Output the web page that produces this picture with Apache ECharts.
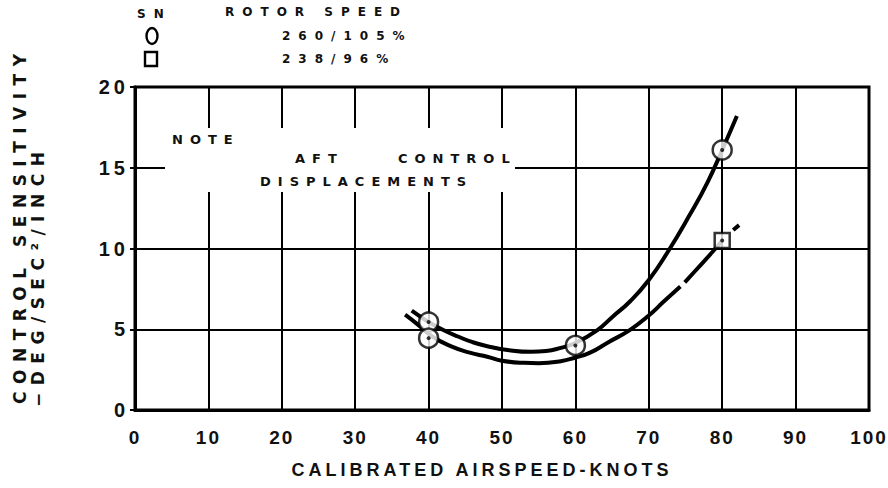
<!DOCTYPE html>
<html>
<head>
<meta charset="utf-8">
<title>Control sensitivity vs calibrated airspeed</title>
<script src="https://cdn.jsdelivr.net/npm/echarts@6/dist/echarts.min.js"></script>
<style>
  html, body { margin: 0; padding: 0; background: #fff; }
  #main { width: 888px; height: 488px; }
  /* the scanned chart spaces its letters out; svg text lets us copy that */
  #main text[style*="12px"] { letter-spacing: 8px; }
  #main text[style*="13px"] { letter-spacing: 7px; }
  #main text[style*="17px"] { letter-spacing: 7.5px; }
  #main text[style*="18px"] { letter-spacing: 4px; }
  #main text[style*="19px"] { letter-spacing: 2px; }
  #main text[style*="20px"] { letter-spacing: 4px; }
</style>
</head>
<body>
<div id="main"></div>
<script type="text/javascript">
// axis ticks
var xTicks = [0, 10, 20, 30, 40, 50, 60, 70, 80, 90, 100];
var yTicks = [0, 5, 10, 15, 20];

// test points (SN legend): circle = 260/105%, square = 238/96%
var circleSpeed = [40, 40, 60, 80];
var circleSens = [5.45, 4.45, 4.0, 16.1];
var squareSpeed = [80];
var squareSens = [10.5];

// faired curves
var upperSpeed = [37.7, 40, 42, 44, 46, 48, 51, 54, 56, 58, 60, 63, 65, 67.5, 70, 72.6, 75.6, 78, 80, 82];
var upperSens = [6.15, 5.45, 4.95, 4.55, 4.2, 3.95, 3.7, 3.6, 3.65, 3.85, 4.15, 4.95, 5.75, 6.75, 8.05, 9.8, 12.1, 14.1, 16.1, 18.2];

var lowerSpeed = [36.8, 38.5, 40.5, 43, 45.6, 48, 50, 53, 55, 58, 60, 62, 64.5, 67.4, 70, 72, 74.3];
var lowerSens = [5.9, 5.3, 4.55, 3.95, 3.55, 3.3, 3.05, 2.92, 2.9, 3.02, 3.25, 3.55, 4.2, 4.95, 5.85, 6.7, 7.65];
var lowerSpeed2 = [74.9, 76.5, 78.6, 80];
var lowerSens2 = [7.9, 8.7, 9.75, 10.5];
var lowerTailSpeed = [81.5, 82.3];
var lowerTailSens = [11.15, 11.45];

function pairs(xs, ys) {
    var out = [];
    for (var i = 0; i < xs.length; i++) {
        out.push([xs[i], ys[i]]);
    }
    return out;
}

var FONT = "'DejaVu Sans', 'Liberation Sans', sans-serif";
var NUMFONT = "'Liberation Sans', 'DejaVu Sans', sans-serif";

function curve(data) {
    return {
        type: 'line',
        data: data,
        smooth: true,
        showSymbol: false,
        silent: true,
        lineStyle: { color: '#000', width: 4 },
        z: 2
    };
}

function label(text, x, y, size, rot) {
    return {
        type: 'text', x: x, y: y, rotation: rot || 0, z: 10,
        style: {
            text: text, fill: '#111',
            fontSize: size, fontWeight: 'bold', fontFamily: FONT,
            textAlign: 'left', textVerticalAlign: 'middle',
            align: 'left', verticalAlign: 'middle'
        }
    };
}

var myChart = echarts.init(document.getElementById('main'), null, { renderer: 'svg' });

myChart.setOption({
    animation: false,
    backgroundColor: '#fff',
    grid: {
        left: 135, right: 19, top: 87, bottom: 78,
        show: true, borderColor: '#000', borderWidth: 3,
        containLabel: false, outerBoundsMode: 'none'
    },
    xAxis: {
        type: 'value',
        min: xTicks[0], max: xTicks[xTicks.length - 1],
        interval: xTicks[1] - xTicks[0],
        name: 'CALIBRATED AIRSPEED-KNOTS',
        nameLocation: 'middle', nameGap: 51,
        // title sits a little left of the plot centre
        nameTextStyle: { color: '#111', fontSize: 18, fontWeight: 'bold', fontFamily: NUMFONT, padding: [0, 40, 0, 0] },
        axisLine: { lineStyle: { color: '#000', width: 3 } },
        axisTick: { show: false },
        axisLabel: { color: '#111', fontSize: 19, fontWeight: 'bold', fontFamily: NUMFONT, margin: 18 },
        splitLine: { show: true, lineStyle: { color: '#000', width: 2 } }
    },
    yAxis: {
        type: 'value',
        min: yTicks[0], max: yTicks[yTicks.length - 1],
        interval: yTicks[1] - yTicks[0],
        axisLine: { show: true, lineStyle: { color: '#000', width: 3 } },
        axisTick: { show: true, length: 5, lineStyle: { color: '#000', width: 2 } },
        axisLabel: { color: '#111', fontSize: 20, fontWeight: 'bold', fontFamily: NUMFONT, margin: 6 },
        splitLine: { show: true, lineStyle: { color: '#000', width: 2 } }
    },
    graphic: [
        // legend block at the top
        label('SN', 137, 14, 12),
        label('ROTOR SPEED', 225, 12, 12),
        { type: 'ellipse', z: 10, shape: { cx: 152, cy: 36, rx: 5.5, ry: 8 },
          style: { fill: 'none', stroke: '#000', lineWidth: 2.4 } },
        label('260/105%', 282, 36, 12),
        { type: 'rect', z: 10, shape: { x: 145, y: 52, width: 12, height: 14 },
          style: { fill: 'none', stroke: '#000', lineWidth: 2.4 } },
        label('238/96%', 282, 59, 12),
        // note box sits over the grid lines
        { type: 'rect', z: 5, shape: { x: 165, y: 128, width: 350, height: 64 },
          style: { fill: '#fff' } },
        label('NOTE', 172, 139, 13),
        label('AFT', 295, 158, 13),
        label('CONTROL', 398, 158, 13),
        label('DISPLACEMENTS', 260, 181, 13),
        // y axis title, two rotated lines
        label('CONTROL SENSITIVITY', 20, 404, 17, Math.PI / 2),
        label('\u2212DEG/SEC\u00B2/INCH', 38, 407, 17, Math.PI / 2)
    ],
    series: [
        curve(pairs(upperSpeed, upperSens)),
        curve(pairs(lowerSpeed, lowerSens)),
        curve(pairs(lowerSpeed2, lowerSens2)),
        curve(pairs(lowerTailSpeed, lowerTailSens)),
        {
            type: 'scatter', data: pairs(circleSpeed, circleSens),
            symbol: 'circle', symbolSize: 19, silent: true, z: 4,
            itemStyle: { color: '#fff', borderColor: '#000', borderWidth: 2.5 }
        },
        {
            type: 'scatter', data: pairs(squareSpeed, squareSens),
            symbol: 'rect', symbolSize: 15, silent: true, z: 4,
            itemStyle: { color: '#fff', borderColor: '#000', borderWidth: 2.5 }
        },
        {
            // centre dots of the test points
            type: 'scatter', data: pairs(circleSpeed.concat(squareSpeed), circleSens.concat(squareSens)),
            symbol: 'circle', symbolSize: 4, silent: true, z: 5,
            itemStyle: { color: '#000' }
        }
    ]
});
</script>
</body>
</html>
